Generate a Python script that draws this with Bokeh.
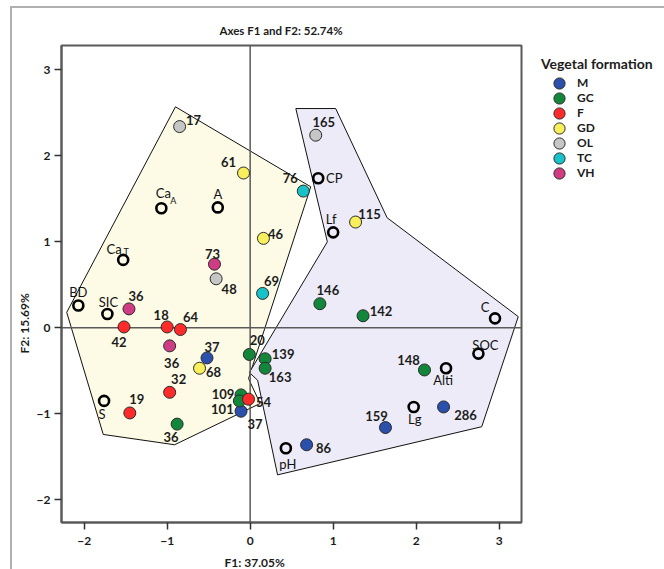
from bokeh.plotting import figure
from bokeh.models import ColumnDataSource, Legend, LegendItem, Span, FixedTicker, Title
from bokeh.core.properties import value
from bokeh.embed import file_html
from bokeh.resources import INLINE

FONT = "Lato"
INK = "#1c1c1c"

# ---- observation scores on F1 / F2, one set per vegetal formation ----
m_labels = ["37", "37", "286", "159", "86"]
m_f1 = [-0.52, -0.11, 2.33, 1.63, 0.68]
m_f2 = [-0.35, -0.97, -0.92, -1.16, -1.36]

gc_labels = ["146", "142", "20", "139", "163", "109", "101", "36", "148"]
gc_f1 = [0.84, 1.36, -0.01, 0.18, 0.18, -0.11, -0.13, -0.88, 2.10]
gc_f2 = [0.28, 0.14, -0.31, -0.36, -0.47, -0.78, -0.85, -1.12, -0.49]

f_labels = ["42", "18", "64", "32", "54", "19"]
f_f1 = [-1.52, -1.00, -0.84, -0.97, -0.02, -1.45]
f_f2 = [0.01, 0.01, -0.02, -0.75, -0.83, -0.99]

gd_labels = ["61", "46", "115", "68"]
gd_f1 = [-0.08, 0.16, 1.27, -0.61]
gd_f2 = [1.80, 1.04, 1.23, -0.47]

ol_labels = ["17", "165", "48"]
ol_f1 = [-0.85, 0.79, -0.41]
ol_f2 = [2.34, 2.24, 0.57]

tc_labels = ["76", "69"]
tc_f1 = [0.64, 0.15]
tc_f2 = [1.59, 0.40]

vh_labels = ["73", "36", "36"]
vh_f1 = [-0.43, -1.46, -0.97]
vh_f2 = [0.74, 0.22, -0.21]

formations = ["M", "GC", "F", "GD", "OL", "TC", "VH"]
formation_colors = ["#2a50ac", "#12873b", "#ff2b2b", "#f7ef5b", "#c6c6c6", "#17c3c9", "#d03c84"]

# ---- soil / site variables projected on the same plane ----
var_names = ["Ca", "A", "Ca", "CP", "Lf", "C", "BD", "SIC", "S", "SOC", "Alti", "Lg", "pH"]
var_subscripts = ["A", "", "T", "", "", "", "", "", "", "", "", "", ""]
var_f1 = [-1.07, -0.39, -1.53, 0.82, 1.00, 2.95, -2.07, -1.72, -1.76, 2.75, 2.36, 1.97, 0.43]
var_f2 = [1.39, 1.40, 0.79, 1.74, 1.11, 0.11, 0.26, 0.16, -0.85, -0.30, -0.47, -0.92, -1.40]

# ---- hulls grouping the two clusters ----
hull_left_f1 = [-0.90, 0.73, -0.02, 0.12, -0.91, -1.77, -2.21]
hull_left_f2 = [2.57, 1.64, -0.59, -0.88, -1.36, -1.24, 0.18]
hull_right_f1 = [0.55, 1.03, 1.65, 3.23, 2.79, 0.33, 0.09, -0.01, 0.93]
hull_right_f2 = [2.55, 2.55, 1.28, 0.13, -1.15, -1.71, -0.61, -0.52, 1.00]

# ---- label placement (screen pixel offsets from each marker, +y is down) ----
obs_label_offsets = {
    "M": [(5, -11), (14, 13), (22, 8), (-9, -12), (17, 3)],
    "GC": [(8, -14), (18, -5), (8, -14), (18, -5), (15, 9), (-18, -1), (-17, 8), (-6, 13), (-16, -10)],
    "F": [(-5, 15), (-6, -12), (10, -13), (9, -13), (15, 3), (7, -14)],
    "GD": [(-15, -11), (12, -4), (14, -8), (14, 4)],
    "OL": [(14, -7), (8, -13), (13, 10)],
    "TC": [(-13, -13), (9, -12)],
    "VH": [(-2, -10), (7, -13), (2, 17)],
}
var_label_offsets = [(2, -15), (0, -13), (-9, -11), (16, 0), (-2, -13), (-10, -11),
                     (0, -13), (1, -12), (-2, 13), (7, -9), (-3, 12), (1, 12), (2, 16)]
var_sub_offsets = [(12, -8), None, (3, -8)] + [None] * 10

groups = {
    "M": (m_labels, m_f1, m_f2),
    "GC": (gc_labels, gc_f1, gc_f2),
    "F": (f_labels, f_f1, f_f2),
    "GD": (gd_labels, gd_f1, gd_f2),
    "OL": (ol_labels, ol_f1, ol_f2),
    "TC": (tc_labels, tc_f1, tc_f2),
    "VH": (vh_labels, vh_f1, vh_f2),
}

p = figure(
    frame_width=460, frame_height=477,
    min_border_left=48, min_border_right=139, min_border_top=37, min_border_bottom=47,
    x_range=(-2.273, 3.269), y_range=(-2.264, 3.283),
    output_backend="svg", toolbar_location=None,
    background_fill_color="white", border_fill_color="white",
)
p.styles = {
    "margin-left": "10px", "margin-top": "6px",
    "border-left": "2px solid #b0b0b0", "border-top": "2px solid #b0b0b0",
    "border-right": "2px solid #b0b0b0",
}

p.title.text = "Axes F1 and F2: 52.74%"
p.title.align = "left"
p.title.offset = 158
p.title.standoff = 18
p.title.text_font = FONT
p.title.text_font_size = "11.5px"
p.title.text_font_style = "bold"
p.title.text_color = INK

p.xgrid.visible = False
p.ygrid.visible = False
p.outline_line_color = "#5a5a5a"
p.outline_line_width = 2

for ax in (p.xaxis[0], p.yaxis[0]):
    ax.ticker = FixedTicker(ticks=[-2, -1, 0, 1, 2, 3])
    ax.axis_line_color = "#5a5a5a"
    ax.axis_line_width = 2
    ax.major_tick_line_color = "#333333"
    ax.major_tick_line_width = 1.5
    ax.major_tick_out = 7
    ax.major_tick_in = 0
    ax.minor_tick_line_color = None
    ax.major_label_text_font = FONT
    ax.major_label_text_font_style = "bold"
    ax.major_label_text_font_size = "12px"
    ax.major_label_text_color = INK
p.xaxis.major_label_standoff = 7
p.yaxis.major_label_standoff = 4

# axis titles, placed along the origin lines
p.add_layout(Title(text="F1: 37.05%", align="left", offset=163, standoff=10,
                   text_font=FONT, text_font_style="bold", text_font_size="12px",
                   text_color=INK), "below")
p.add_layout(Title(text="F2: 15.69%", align="left", offset=169, standoff=4,
                   text_font=FONT, text_font_style="bold", text_font_size="12px",
                   text_color=INK), "left")

# hull areas sit beneath the origin lines
left_hull = p.patch(hull_left_f1, hull_left_f2, fill_color="#fdfbe5", line_color="#111111", line_width=1)
right_hull = p.patch(hull_right_f1, hull_right_f2, fill_color="#ecebf7", line_color="#111111", line_width=1)
left_hull.level = "image"
right_hull.level = "image"

for dim in ("height", "width"):
    p.add_layout(Span(location=0, dimension=dim, line_color="#5a5a5a", line_width=1.5, level="underlay"))

legend_items = []
for name, color in zip(formations, formation_colors):
    labels, f1, f2 = groups[name]
    offs = obs_label_offsets[name]
    src = ColumnDataSource(dict(
        x=f1, y=f2, label=labels,
        dx=[o[0] for o in offs], dy=[o[1] for o in offs],
    ))
    r = p.ellipse("x", "y", width=12, height=12, width_units="screen", height_units="screen",
                  source=src, fill_color=color, line_color="#2b2b2b", line_width=1)
    p.text("x", "y", text="label", x_offset="dx", y_offset="dy", source=src,
           text_align="center", text_baseline="middle", text_font=value(FONT),
           text_font_style="bold", text_font_size="13px", text_color=INK)
    legend_items.append(LegendItem(label=name, renderers=[r]))

# variables: open rings with their names
var_src = ColumnDataSource(dict(
    x=var_f1, y=var_f2, label=var_names,
    dx=[o[0] for o in var_label_offsets], dy=[o[1] for o in var_label_offsets],
))
p.scatter("x", "y", source=var_src, size=10, fill_alpha=0, line_color="#000000", line_width=2.6)
p.text("x", "y", text="label", x_offset="dx", y_offset="dy", source=var_src,
       text_align="center", text_baseline="middle", text_font=value(FONT),
       text_font_size="13px", text_color="#111111")

sub_idx = [i for i, s in enumerate(var_subscripts) if s]
sub_src = ColumnDataSource(dict(
    x=[var_f1[i] for i in sub_idx], y=[var_f2[i] for i in sub_idx],
    label=[var_subscripts[i] for i in sub_idx],
    dx=[var_sub_offsets[i][0] for i in sub_idx], dy=[var_sub_offsets[i][1] for i in sub_idx],
))
p.text("x", "y", text="label", x_offset="dx", y_offset="dy", source=sub_src,
       text_align="center", text_baseline="middle", text_font=value(FONT),
       text_font_size="9px", text_color="#111111")

legend = Legend(
    items=legend_items, location=(20, 342),
    title="Vegetal formation",
    title_text_font=FONT, title_text_font_style="bold", title_text_font_size="14px",
    title_text_color=INK, title_standoff=3,
    label_text_font=FONT, label_text_font_style="bold", label_text_font_size="12px",
    label_text_color=INK,
    glyph_width=36, glyph_height=14, label_height=14, label_standoff=0,
    spacing=0, padding=0, margin=0,
    border_line_color=None, background_fill_alpha=0,
)
p.add_layout(legend, "right")

open("out.html", "w").write(file_html(p, INLINE))
